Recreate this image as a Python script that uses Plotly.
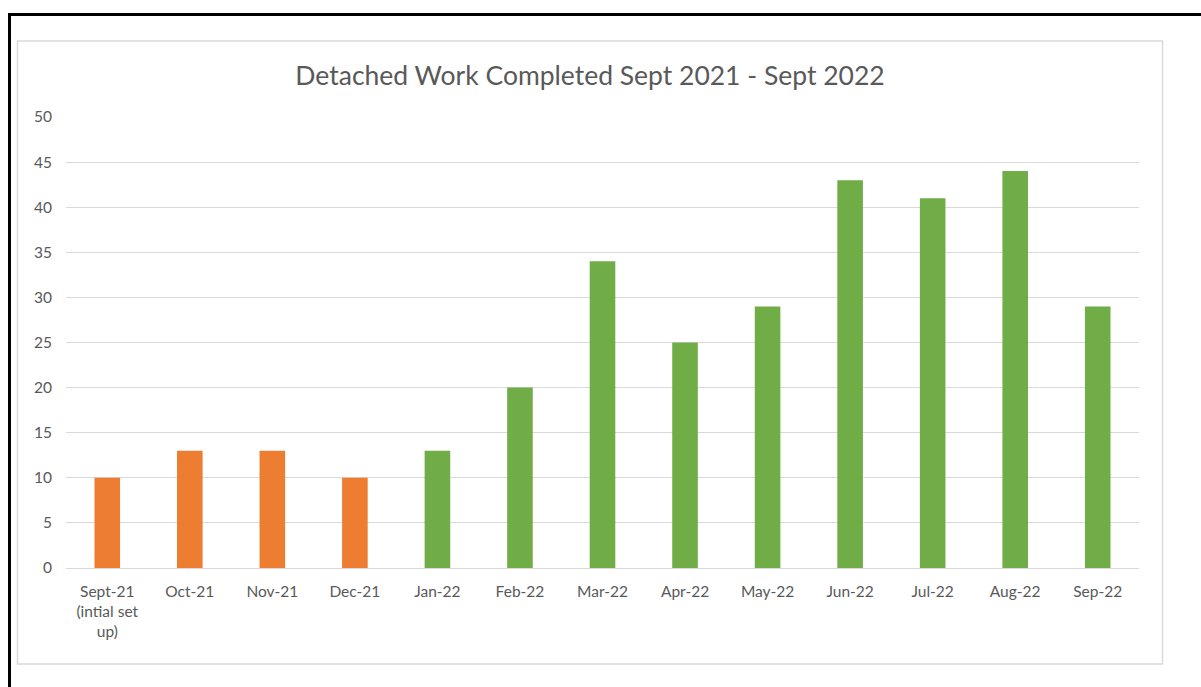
import plotly.graph_objects as go

# Monthly counts of detached work completed
months = ["Sept-21<br>(intial set<br>up)", "Oct-21", "Nov-21", "Dec-21", "Jan-22", "Feb-22",
          "Mar-22", "Apr-22", "May-22", "Jun-22", "Jul-22", "Aug-22", "Sep-22"]
completed = [10, 13, 13, 10, 13, 20, 34, 25, 29, 43, 41, 44, 29]
bar_colors = ["#ED7D31"] * 4 + ["#70AD47"] * 9

W, H = 1201, 687
L, R, T, B = 66, 1139, 117, 568  # plot area in pixels


def px_x(x):
    return (x - L) / (R - L)


def px_y(y):
    return (B - y) / (B - T)


fig = go.Figure(go.Bar(
    x=months, y=completed,
    marker=dict(color=bar_colors, line=dict(width=0)),
    width=0.31,
))

text_col = "#595959"
grid_col = "#D9D9D9"
tick_size = 15.5

fig.update_layout(
    width=W, height=H,
    margin=dict(l=L, r=W - R, t=T, b=H - B),
    paper_bgcolor="white", plot_bgcolor="white",
    font=dict(family="Lato, Open Sans, sans-serif", size=tick_size, color=text_col),
    title=dict(text="Detached Work Completed Sept 2021 - Sept 2022",
               x=(590) / W, xanchor="center", y=1 - 76 / H, yanchor="middle",
               font=dict(size=26.5, color=text_col)),
    showlegend=False,
    bargap=0.69,
)
fig.update_yaxes(range=[0, 50], dtick=5, gridcolor=grid_col, gridwidth=1,
                 zeroline=False, showline=False, ticks="", ticklabelstandoff=13,
                 tickfont=dict(size=tick_size, color=text_col))
fig.update_xaxes(showline=True, linecolor=grid_col, linewidth=1, ticks="",
                 tickangle=0, tickfont=dict(size=tick_size, color=text_col),
                 ticklabelstandoff=9)

shapes = [
    # chart area frame
    dict(type="rect", xref="paper", yref="paper",
         x0=px_x(17.5), x1=px_x(1162.5), y0=px_y(664), y1=px_y(41),
         line=dict(color="#D9D9D9", width=1.5), fillcolor="rgba(0,0,0,0)", layer="below"),
    # outer black frame (left and top edges)
    dict(type="line", xref="paper", yref="paper",
         x0=px_x(9.5), x1=px_x(9.5), y0=px_y(14), y1=px_y(700),
         line=dict(color="black", width=3)),
    dict(type="line", xref="paper", yref="paper",
         x0=px_x(8), x1=px_x(1210), y0=px_y(14.5), y1=px_y(14.5),
         line=dict(color="black", width=3)),
]
fig.update_layout(shapes=shapes)

fig.write_html("out.html")
